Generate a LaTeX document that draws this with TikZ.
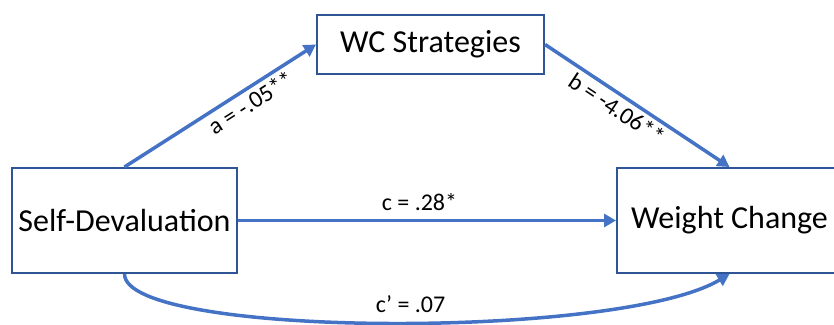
\documentclass[tikz,border=0pt]{standalone}
\usepackage{fontspec}
\setmainfont{Carlito}
\usepackage{tikz}
\usetikzlibrary{arrows.meta,positioning}
\definecolor{boxblue}{HTML}{2F5597}
\definecolor{arrowblue}{HTML}{4472C4}

\begin{document}
\begin{tikzpicture}[
  x=1pt, y=1pt,
  every node/.style={font=\fontsize{24}{28}\selectfont},
  var/.style={draw=boxblue, line width=2pt, fill=white, inner sep=0pt, font=\fontsize{32}{36}\selectfont},
  link/.style={draw=arrowblue, line width=3.5pt, -{Triangle[length=12pt,width=13pt]}},
]
\useasboundingbox (0,0) rectangle (834,324);
\node[var, minimum width=225pt, minimum height=105pt] (sd) at (124.5,103.5) {Self-Devaluation};
\node[var, minimum width=227pt, minimum height=59pt] (wcs) at (430.5,279.5) {WC Strategies};
\node[var, minimum width=225pt, minimum height=105pt, right=378pt of sd] (wch) {Weight Change};
\draw[link] (sd.north) -- node[sloped, below, pos=0.62] {a = -.05**} (wcs.west);
\draw[link] (wcs.east) -- node[sloped, below, pos=0.43] {b = -4.06**} (wch.north);
\draw[link] (sd.east) -- node[above=5pt, pos=0.48] {c = .28*} (wch.west);
\draw[link] (sd.south) .. controls +(0,-64) and +(-110,-66) .. node[above=5pt, pos=0.53] {c’ = .07} (wch.south);
\end{tikzpicture}
\end{document}
